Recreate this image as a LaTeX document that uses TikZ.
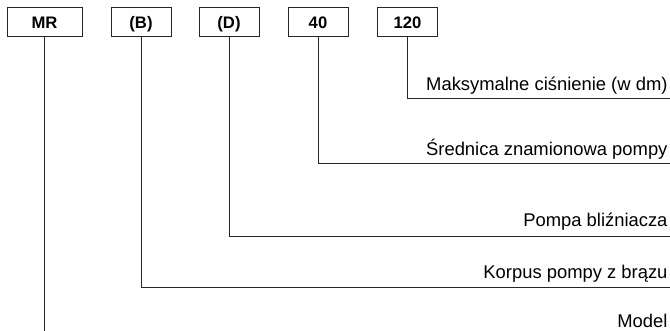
\documentclass[tikz,border=0pt]{standalone}
\usepackage{fontspec}
\setmainfont{Liberation Sans}
\usetikzlibrary{positioning}

\begin{document}
\begin{tikzpicture}[x=0.75pt,y=-0.75pt,line width=0.75pt,
  kod/.style={draw=black!85,minimum width=45pt,minimum height=21.75pt,inner sep=0pt,
    text height=11pt,text depth=1.25pt,font=\fontsize{12.5}{15}\selectfont\bfseries},
  opis/.style={anchor=base east,inner sep=0pt,font=\fontsize{13.8}{16}\selectfont},
  linia/.style={draw=black!85,line width=0.75pt}]
  \useasboundingbox (0,0) rectangle (670,331);
  % pola oznaczenia
  \node[kod,minimum width=56.25pt] (mr) at (44.5,22.5) {MR};
  \node[kod] (brz) at (141,22.5) {(B)};
  \node[kod] (bliz) at (229,22.5) {(D)};
  \node[kod] (dn) at (318,22.5) {40};
  \node[kod] (cis) at (407.5,22.5) {120};
  % opisy
  \node[opis] (tcis) at (668,91) {Maksymalne ciśnienie (w dm)};
  \node[opis] (tdn) at (668,156) {Średnica znamionowa pompy};
  \node[opis] (tbliz) at (668,227) {Pompa bliźniacza};
  \node[opis] (tbrz) at (668,278) {Korpus pompy z brązu};
  \node[opis] (tmr) at (668,327) {Model};
  % konce linii
  \coordinate (ecis) at (670,99);
  \coordinate (edn) at (670,164);
  \coordinate (ebliz) at (670,236);
  \coordinate (ebrz) at (670,287);
  \coordinate (emr) at (44.5,331);
  % linie odniesienia
  \draw[linia] (cis.south) |- (ecis);
  \draw[linia] (dn.south) |- (edn);
  \draw[linia] (bliz.south) |- (ebliz);
  \draw[linia] (brz.south) |- (ebrz);
  \draw[linia] (mr.south) -- (emr);
\end{tikzpicture}
\end{document}
